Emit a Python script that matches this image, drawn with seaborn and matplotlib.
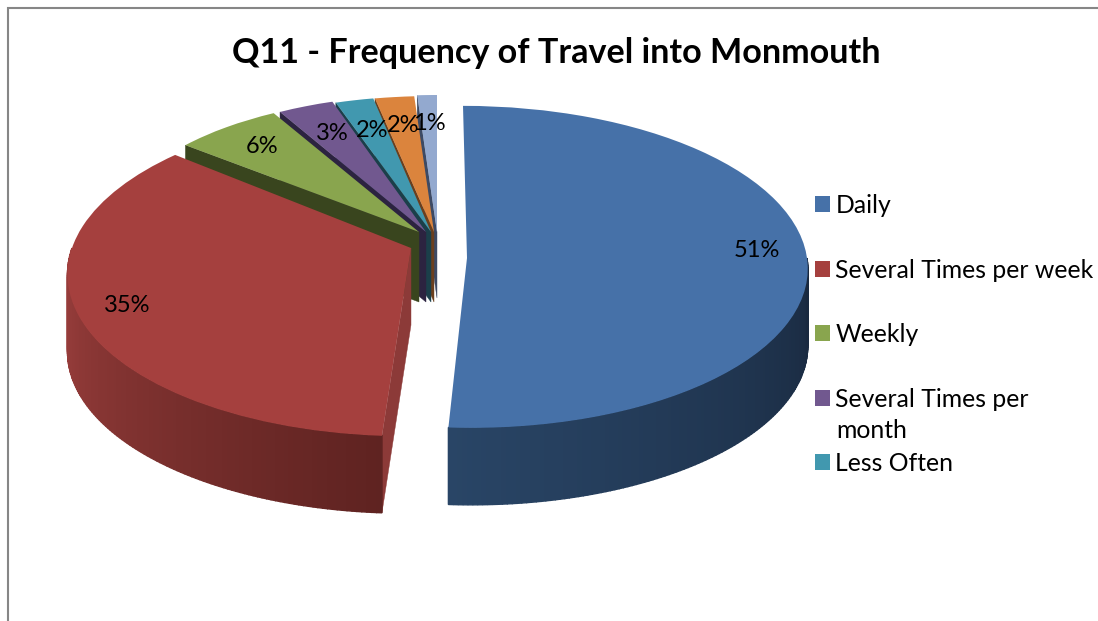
import numpy as np
import matplotlib
matplotlib.use("Agg")
import matplotlib.pyplot as plt
from matplotlib.transforms import Transform
from matplotlib.patches import Polygon
import seaborn as sns

title = "Q11 - Frequency of Travel into Monmouth"
values = [51, 35, 6, 3, 2, 2, 1]
legend_labels = ["Daily", "Several Times per week", "Weekly", "Several Times per", "Less Often"]
legend_wrap = "month"
top_colors = ["#4671a8", "#a5403e", "#89a54e", "#71588f", "#4198af", "#db843d", "#93a9cf"]
face_colors = [None, "#8c3a38", "#39451e", "#2c2340", "#1b3f4a", "#6b3f1d", "#3d4a64"]
side_colors = [("#294566", "#19293f"), ("#a0413f", "#5f2321")]

# per-slice geometry: tip x, tip y, x radius, y radius, perspective, shear
geometry = [
    (467, 258, 340, 160.5, 0.055, -4),
    (411, 248, 339, 160, 0.15, 4),
    (419, 232, 307, 138, 0.02, 0),
    (426, 232, 303, 137, 0.0, 0),
    (431, 232, 308, 136, 0.0, 0),
    (434, 232, 315, 136, 0.0, 0),
    (437, 232, 315, 137, 0.0, 0),
]
label_radius = [0.85, 0.86, 0.81, 0.78, 0.77, 0.79, 0.79]
label_dy = [-12, 0, 0, 0, 0, 0, 0]
depths = [77, 77, 70, 70, 70, 70, 66]
draw_order = [0, 6, 5, 4, 3, 2, 1]


class PieProjection(Transform):
    input_dims = 2
    output_dims = 2
    is_separable = False

    def __init__(self, cx, cy, rx, ry, p, shear):
        super().__init__()
        self.args = (cx, cy, rx, ry, p, shear)

    def transform_non_affine(self, v):
        cx, cy, rx, ry, p, shear = self.args
        v = np.asarray(v, dtype=float)
        f = 1.0 / (1.0 + p * v[:, 1])
        return np.column_stack((cx + rx * v[:, 0] * f + shear * v[:, 1], cy - ry * v[:, 1] * f))


sns.set_theme(style="white")
plt.rcParams["font.family"] = ["Lato", "DejaVu Sans"]
palette = sns.color_palette(top_colors)

fig = plt.figure(figsize=(10.98, 6.21), dpi=100)
ax = fig.add_axes([0, 0, 1, 1])
wedges, _, autotexts = ax.pie(
    values, colors=palette, startangle=90, counterclock=False, radius=1,
    autopct="%.0f%%", wedgeprops=dict(linewidth=0),
    textprops=dict(fontsize=17, color="black"),
)
ax.set_aspect("auto")
ax.set_xlim(0, 1098)
ax.set_ylim(621, 0)
ax.set_axis_off()

projections = [PieProjection(*g) for g in geometry]
for rank, i in enumerate(draw_order):
    w, proj, depth = wedges[i], projections[i], depths[i]
    base = 10 * (rank + 1)
    w.set_transform(proj + ax.transData)
    w.set_zorder(base + 2)

    # cut face below the leading edge of the slice
    if face_colors[i] is not None:
        a = np.radians(w.theta2)
        pts = proj.transform_non_affine(np.array([[0, 0], [np.cos(a), np.sin(a)]]))
        poly = np.vstack((pts, pts[::-1] + [0, depth]))
        ax.add_patch(Polygon(poly, closed=True, facecolor=face_colors[i],
                             edgecolor=face_colors[i], linewidth=0.3, zorder=base))

    # shaded outer rim for slices that reach the front of the pie
    if i < len(side_colors):
        lo = max(w.theta1, -180)
        hi = min(w.theta2, 0)
        n = 120
        th = np.radians(np.linspace(lo, hi, n + 1))
        shades = sns.blend_palette(side_colors[i], n)
        rim = proj.transform_non_affine(np.column_stack((np.cos(th), np.sin(th))))
        for k in range(n):
            quad = np.array([rim[k], rim[k + 1], rim[k + 1] + [0, depth], rim[k] + [0, depth]])
            ax.add_patch(Polygon(quad, closed=True, facecolor=shades[k], edgecolor=shades[k],
                                 linewidth=1.0, zorder=base + 1))

for i, t in enumerate(autotexts):
    w = wedges[i]
    mid = np.radians(0.5 * (w.theta1 + w.theta2))
    x, y = projections[i].transform_non_affine(
        np.array([[label_radius[i] * np.cos(mid), label_radius[i] * np.sin(mid)]]))[0]
    t.set_position((x, y + label_dy[i]))
    t.set_zorder(200)

ax.text(556, 53, title, fontsize=24.6, fontweight="bold", ha="center", va="center",
        color="black", zorder=200)

leg = ax.legend(
    wedges[:5], legend_labels, loc="upper left", bbox_to_anchor=(815, 194),
    bbox_transform=ax.transData, frameon=False, fontsize=17.8, handlelength=0.62,
    handleheight=0.62, handletextpad=0.2, labelspacing=1.68, borderpad=0, borderaxespad=0,
    labelcolor="black",
)
leg.set_zorder(200)
ax.text(836, 430, legend_wrap, fontsize=17.8, ha="left", va="center", color="black", zorder=200)

ax.plot([8, 8, 1098], [621, 8, 8], color="#868686", linewidth=1.5, zorder=0,
        solid_joinstyle="miter", clip_on=False)

fig.savefig("out.png", dpi=100)
